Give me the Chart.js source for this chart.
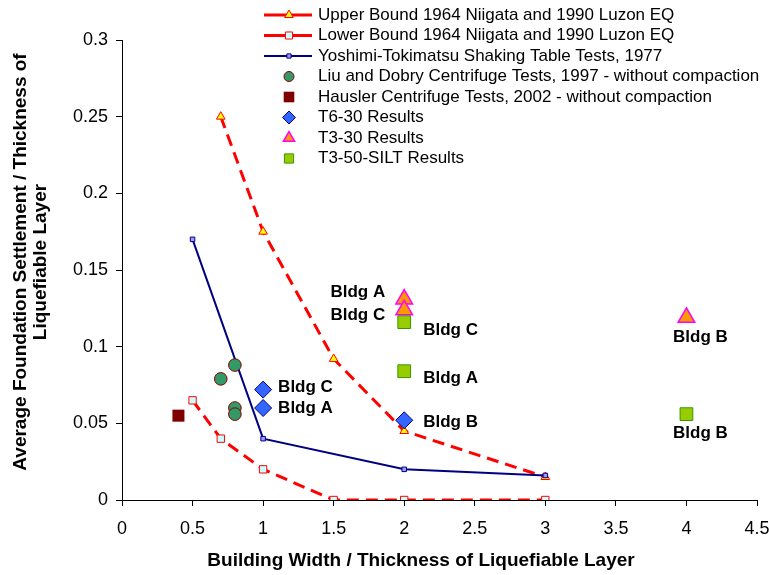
<!DOCTYPE html>
<html>
<head>
    <meta charset="utf-8">
    <script src="https://cdn.jsdelivr.net/npm/chart.js"></script>
    <style>body{margin:0;background:#fff}</style>
</head>
<body>
<canvas id="settleChart" width="769" height="575"></canvas>
<script>
// values
const upperX = [0.7, 1, 1.5, 2, 3]
const upperY = [0.25, 0.175, 0.092, 0.045, 0.015]
const lowerX = [0.5, 0.7, 1, 1.5, 2, 3]
const lowerY = [0.065, 0.04, 0.02, 0, 0, 0]
const yoshiX = [0.5, 1, 2, 3]
const yoshiY = [0.17, 0.04, 0.02, 0.016]
const liuX = [0.7, 0.8, 0.8, 0.8]
const liuY = [0.079, 0.088, 0.06, 0.056]
const hauslerX = [0.4]
const hauslerY = [0.055]
const t630X = [1, 1, 2]
const t630Y = [0.072, 0.06, 0.052]
const t330X = [2, 2, 4]
const t330Y = [0.131, 0.124, 0.119]
const siltX = [2, 2, 4]
const siltY = [0.116, 0.084, 0.056]
const t630Labels = ['Bldg C', 'Bldg A', 'Bldg B']
const t330Labels = ['Bldg A', 'Bldg C', 'Bldg B']
const siltLabels = ['Bldg C', 'Bldg A', 'Bldg B']
const seriesNames = [
    'Upper Bound 1964 Niigata and 1990 Luzon EQ',
    'Lower Bound 1964 Niigata and 1990 Luzon EQ',
    'Yoshimi-Tokimatsu Shaking Table Tests, 1977',
    'Liu and Dobry Centrifuge Tests, 1997 - without compaction',
    'Hausler Centrifuge Tests, 2002 - without compaction',
    'T6-30 Results',
    'T3-30 Results',
    'T3-50-SILT Results'
]
const xTitle = 'Building Width / Thickness of Liquefiable Layer'
const yTitle = ['Average Foundation Settlement / Thickness of', 'Liquefiable Layer']

function pts(xs, ys) { return xs.map((x, i) => ({x: x, y: ys[i]})) }

const FONT = '"Liberation Sans", Arial, sans-serif'

// label placement (pixel offsets from the point)
const labelPlace = {
    5: [[15, -2, 'left'], [15, 0, 'left'], [19, 2, 'left']],
    6: [[-19, -7, 'right'], [-19, 5, 'right'], [14, 20, 'center']],
    7: [[19, 8, 'left'], [19, 7, 'left'], [14, 19, 'center']]
}
const labelText = {5: t630Labels, 6: t330Labels, 7: siltLabels}
const legendRadius = [5, 5, 3, 5, 7.5, 6.5, 6.5, 6.5]

const extras = {
    id: 'extras',
    afterDraw(chart) {
        const ctx = chart.ctx
        const ds = chart.data.datasets
        // point labels
        ctx.save()
        ctx.font = 'bold 17px ' + FONT
        ctx.fillStyle = '#000'
        ctx.textBaseline = 'middle'
        for (const k in labelPlace) {
            const meta = chart.getDatasetMeta(+k)
            labelPlace[k].forEach((p, i) => {
                const el = meta.data[i]
                ctx.textAlign = p[2]
                ctx.fillText(labelText[k][i], el.x + p[0], el.y + p[1])
            })
        }
        ctx.restore()
        // legend
        ctx.save()
        ctx.font = '17px ' + FONT
        ctx.textBaseline = 'middle'
        ctx.textAlign = 'left'
        ds.forEach((d, i) => {
            const y = 15 + i * 20.5
            if (d.showLine) {
                ctx.save()
                ctx.strokeStyle = d.borderColor
                ctx.lineWidth = d.borderWidth
                ctx.beginPath(); ctx.moveTo(264, y); ctx.lineTo(312, y); ctx.stroke()
                ctx.restore()
            }
            ctx.save()
            ctx.fillStyle = d.pointBackgroundColor
            ctx.strokeStyle = d.pointBorderColor
            ctx.lineWidth = d.pointBorderWidth
            Chart.helpers.drawPoint(ctx, {pointStyle: d.pointStyle, radius: legendRadius[i], rotation: 0, borderWidth: d.pointBorderWidth}, 289, y)
            ctx.restore()
            ctx.fillStyle = '#000'
            ctx.fillText(seriesNames[i], 318, y)
        })
        ctx.restore()
        // axis titles
        ctx.save()
        ctx.fillStyle = '#000'
        ctx.font = 'bold 19px ' + FONT
        ctx.textAlign = 'center'
        ctx.textBaseline = 'middle'
        ctx.fillText(xTitle, 421, 561)
        ctx.translate(31, 262)
        ctx.rotate(-Math.PI / 2)
        ctx.fillText(yTitle[0], 0, -10)
        ctx.fillText(yTitle[1], 0, 10)
        ctx.restore()
    }
}

const chart = document.getElementById('settleChart')
let scatterChart = new Chart(chart, {
    type: 'scatter',
    data: {
        datasets: [
            {label: seriesNames[0], data: pts(upperX, upperY), showLine: true, borderColor: '#ff0000', borderWidth: 3, borderDash: [12, 7],
             pointStyle: 'triangle', pointRadius: 5, pointBackgroundColor: '#ffff00', pointBorderColor: '#ff0000', pointBorderWidth: 1, order: 8},
            {label: seriesNames[1], data: pts(lowerX, lowerY), showLine: true, borderColor: '#ff0000', borderWidth: 3, borderDash: [12, 7],
             pointStyle: 'rect', pointRadius: 5.2, pointBackgroundColor: '#ccffff', pointBorderColor: '#ff0000', pointBorderWidth: 1, order: 7},
            {label: seriesNames[2], data: pts(yoshiX, yoshiY), showLine: true, borderColor: '#000080', borderWidth: 2,
             pointStyle: 'rect', pointRadius: 3.2, pointBackgroundColor: '#9999ff', pointBorderColor: '#000080', pointBorderWidth: 1, order: 6},
            {label: seriesNames[3], data: pts(liuX, liuY), pointStyle: 'circle', pointRadius: 6.3,
             pointBackgroundColor: '#339966', pointBorderColor: '#800000', pointBorderWidth: 1, order: 5},
            {label: seriesNames[4], data: pts(hauslerX, hauslerY), pointStyle: 'rect', pointRadius: 8.5,
             pointBackgroundColor: '#800000', pointBorderColor: '#800000', pointBorderWidth: 0, order: 4},
            {label: seriesNames[5], data: pts(t630X, t630Y), pointStyle: 'rectRot', pointRadius: 8.5,
             pointBackgroundColor: '#3366ff', pointBorderColor: '#000080', pointBorderWidth: 1, order: 3},
            {label: seriesNames[6], data: pts(t330X, t330Y), pointStyle: 'triangle', pointRadius: 9.6,
             pointBackgroundColor: '#ff9900', pointBorderColor: '#ff00ff', pointBorderWidth: 1.5, order: 2},
            {label: seriesNames[7], data: pts(siltX, siltY), pointStyle: 'rect', pointRadius: 9,
             pointBackgroundColor: '#99cc00', pointBorderColor: '#339900', pointBorderWidth: 1, order: 1}
        ]
    },
    options: {
        responsive: false,
        animation: false,
        devicePixelRatio: 1,
        layout: {padding: {top: 40, right: 0, left: 0, bottom: 0}},
        plugins: {legend: {display: false}, tooltip: {enabled: false}},
        scales: {
            x: {
                type: 'linear', min: 0, max: 4.5,
                afterFit: s => { s.height = 75; s.paddingRight = 12 },
                ticks: {stepSize: 0.5, color: '#000', padding: 12, font: {size: 18, family: FONT},
                        callback: v => String(+v.toFixed(1))},
                grid: {drawOnChartArea: false, drawTicks: true, tickLength: 6, color: '#000'},
                border: {color: '#000', width: 1}
            },
            y: {
                type: 'linear', min: 0, max: 0.3,
                afterFit: s => { s.width = 122 },
                ticks: {stepSize: 0.05, color: '#000', padding: 8, font: {size: 18, family: FONT},
                        callback: v => String(+v.toFixed(2))},
                grid: {drawOnChartArea: false, drawTicks: true, tickLength: 6, color: '#000'},
                border: {color: '#000', width: 1}
            }
        }
    },
    plugins: [extras]
})
</script>
</body>
</html>
